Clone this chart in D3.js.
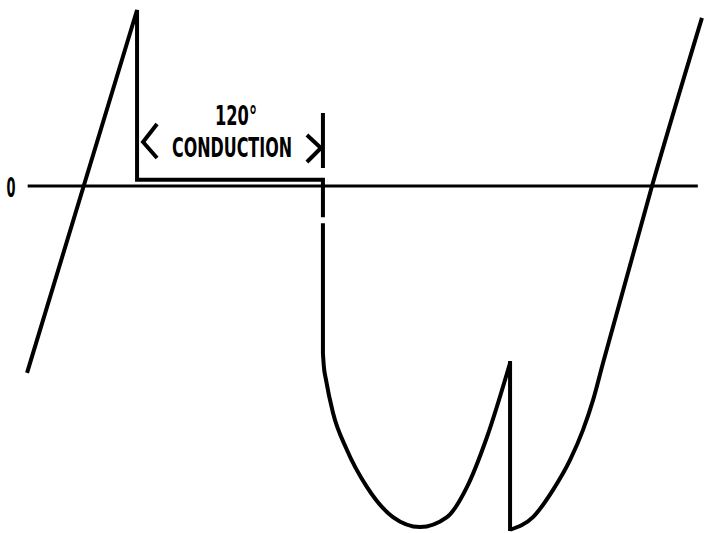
<!DOCTYPE html>
<html><head><meta charset="utf-8">
<script src="https://cdn.jsdelivr.net/npm/d3@7"></script>
<style>html,body{margin:0;padding:0;background:#fff}svg{display:block}</style>
</head><body>
<script>
// Electrical angle (degrees) vs. voltage (% of negative peak)
const zeroLabel = "0";
const angleLabel = "120°";
const conductionLabel = "CONDUCTION";
const conductionStart = 34.2, conductionEnd = 151.8;
const axisRange = [-35, 389];
// rising ramp and conduction flat
const rampAngles   = [-35.4, 34.2, 34.2, 151.8, 151.8];
const rampValues   = [-54.8, 51.6, 1.8, 1.8, -9.2];
// off-state step after turn-off
const stepAngles = [151.8, 151.8];
const stepValues = [-10.9, -49.0];
// negative lobe
const lobeAngles = [151.8, 152.4, 153.6, 158.2, 167.0, 179.7, 196.1, 213.2, 230.3, 242.9, 255.6, 270.2];
const lobeValues = [-49.0, -53.0, -56.5, -66.6, -77.4, -88.3, -97.1, -100, -97.1, -88.3, -73.6, -51.9];
// notch drop
const notchAngles = [270.2, 270.2];
const notchValues = [-51.9, -100.6];
// recovery
const riseAngles = [270.2, 284.7, 297.4, 308.1, 316.3, 322.7, 329.0, 360.0, 391.6];
const riseValues = [-100.8, -97.1, -89.1, -80.4, -71.6, -62.8, -51.9, 0, 49.3];

const W = 708, H = 533;
const x = d3.scaleLinear().domain([0, 360]).range([83, 652]);
const y = d3.scaleLinear().domain([0, -100]).range([186, 527]);

const svg = d3.select("body").append("svg").attr("width", W).attr("height", H);
const ink = "#000";
const font = "'Liberation Sans Narrow','DejaVu Sans Condensed','Liberation Sans',sans-serif";

// zero axis
svg.append("line").attr("x1", x(axisRange[0])).attr("x2", x(axisRange[1]))
  .attr("y1", y(0)).attr("y2", y(0)).attr("stroke", ink).attr("stroke-width", 3);
svg.append("text").attr("x", 11).attr("y", 197).attr("text-anchor", "middle")
  .attr("font-family", font).attr("font-weight", "bold").attr("font-size", 27)
  .attr("textLength", 9).attr("lengthAdjust", "spacingAndGlyphs").attr("fill", ink).text(zeroLabel);

const zip = (a, b) => a.map((v, i) => [v, b[i]]);
const straight = d3.line().x(d => x(d[0])).y(d => y(d[1]));
const smooth = d3.line().x(d => x(d[0])).y(d => y(d[1])).curve(d3.curveMonotoneX);

const wave = svg.append("g").attr("fill", "none").attr("stroke", ink).attr("stroke-width", 4)
  .attr("stroke-linejoin", "round").attr("stroke-linecap", "butt");
wave.append("path").attr("d", straight(zip(rampAngles, rampValues))).attr("stroke-linejoin", "miter");
wave.append("path").attr("d", straight(zip(stepAngles, stepValues)).replace(/$/, "") + smooth(zip(lobeAngles, lobeValues)).replace(/^M[^C L]+/, ""));
wave.append("path").attr("d", straight(zip(notchAngles, notchValues))).attr("stroke-linecap", "square");
wave.append("path").attr("d", smooth(zip(riseAngles, riseValues)));

// conduction annotation
const xs = x(conductionStart), xe = x(conductionEnd);
const ann = svg.append("g").attr("fill", "none").attr("stroke", ink).attr("stroke-width", 4);
ann.append("line").attr("x1", xe).attr("x2", xe).attr("y1", 113).attr("y2", 168);
ann.append("polyline").attr("points", [[xs + 20, 124], [xs + 6, 142], [xs + 20, 158]].join(" "));
ann.append("polyline").attr("points", [[xe - 16, 135], [xe - 2, 148], [xe - 16, 162]].join(" "));

svg.append("text").attr("x", 236).attr("y", 125).attr("text-anchor", "middle")
  .attr("font-family", font).attr("font-weight", "bold").attr("font-size", 27)
  .attr("textLength", 42).attr("lengthAdjust", "spacingAndGlyphs").attr("fill", ink).text(angleLabel);
svg.append("text").attr("x", 232).attr("y", 157).attr("text-anchor", "middle")
  .attr("font-family", font).attr("font-weight", "bold").attr("font-size", 27)
  .attr("textLength", 120).attr("lengthAdjust", "spacingAndGlyphs").attr("fill", ink).text(conductionLabel);
</script>
</body></html>
